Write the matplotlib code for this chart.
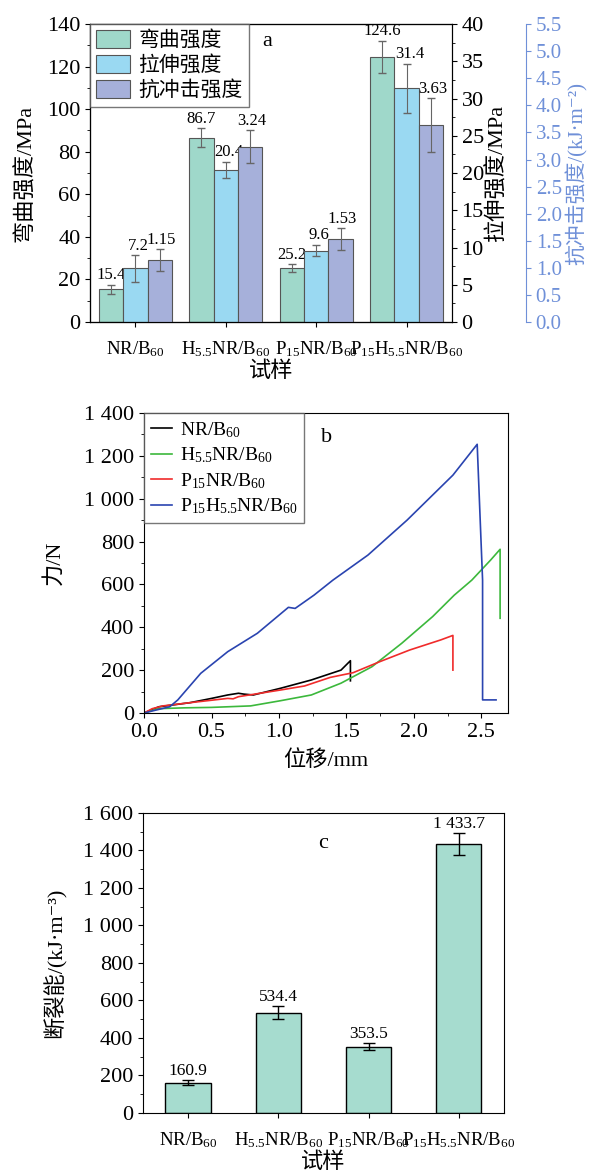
import numpy as np
import matplotlib
matplotlib.use('Agg')
import matplotlib.pyplot as plt
from matplotlib.ticker import MultipleLocator, FuncFormatter

fontes = ['Liberation Serif', 'Noto Sans CJK SC', 'DejaVu Sans']
plt.rcParams['font.family'] = fontes
plt.rcParams['mathtext.fontset'] = 'custom'
plt.rcParams['mathtext.rm'] = 'Liberation Serif'
plt.rcParams['mathtext.default'] = 'regular'

# Dados
amostras = [r'NR/B$_{60}$', r'H$_{5.5}$NR/B$_{60}$', r'P$_{15}$NR/B$_{60}$', r'P$_{15}$H$_{5.5}$NR/B$_{60}$']

flex = [15.4, 86.7, 25.2, 124.6]
flex_err = [2.1, 4.3, 1.9, 7.5]
tens = [7.2, 20.4, 9.6, 31.4]
tens_err = [1.8, 1.1, 0.8, 3.3]
impacto = [1.15, 3.24, 1.53, 3.63]
impacto_err = [0.2, 0.3, 0.2, 0.5]

# curvas força x deslocamento
nr_x = [0.0, 0.11, 0.34, 0.50, 0.62, 0.70, 0.74, 0.81, 1.01, 1.24, 1.46, 1.53, 1.53]
nr_y = [0, 29, 48, 68, 84, 92, 88, 84, 115, 154, 200, 244, 150]
h_x = [0.0, 0.10, 0.30, 0.50, 0.79, 1.01, 1.24, 1.46, 1.69, 1.91, 2.14, 2.30, 2.43, 2.50, 2.57, 2.64, 2.64]
h_y = [0, 20, 24, 26, 33, 57, 84, 139, 216, 325, 450, 550, 620, 667, 714, 764, 442]
p_x = [0.0, 0.06, 0.14, 0.34, 0.62, 0.66, 0.70, 0.80, 1.01, 1.19, 1.38, 1.55, 1.75, 1.97, 2.20, 2.29, 2.29]
p_y = [0, 20, 33, 48, 68, 66, 76, 86, 107, 126, 166, 188, 240, 294, 341, 362, 200]
ph_x = [0.0, 0.19, 0.25, 0.42, 0.62, 0.84, 1.07, 1.12, 1.26, 1.40, 1.66, 1.95, 2.29, 2.47, 2.51, 2.51, 2.61]
ph_y = [0, 29, 61, 185, 286, 372, 493, 488, 550, 620, 737, 900, 1110, 1254, 620, 61, 61]

energia = [160.9, 534.4, 353.5, 1433.7]
energia_err = [13, 35, 18, 60]

c_flex = '#9fd8ca'
c_tens = '#9ad9f2'
c_imp = '#a6b0da'
c_blue = '#6f90d8'

espaco = FuncFormatter(lambda v, p: f'{v:,.0f}'.replace(',', ' '))

fig = plt.figure(figsize=(5.93, 11.74), dpi=100)

# ---------------- painel a ----------------
ax = fig.add_axes([0.152, 0.7257, 0.610, 0.2538])
ax2 = ax.twinx()
ax3 = ax.twinx()
ax3.spines['right'].set_position(('axes', 1.205))

x = np.arange(len(amostras))
w = 0.27
b1 = ax.bar(x - w, flex, w, color=c_flex, edgecolor='#555555', linewidth=0.8, label='弯曲强度')
ax.errorbar(x - w, flex, yerr=flex_err, fmt='none', ecolor='#666666', elinewidth=0.8, capsize=3)
b2 = ax2.bar(x, tens, w, color=c_tens, edgecolor='#555555', linewidth=0.8, label='拉伸强度')
ax2.errorbar(x, tens, yerr=tens_err, fmt='none', ecolor='#666666', elinewidth=0.8, capsize=3)
b3 = ax3.bar(x + w, impacto, w, color=c_imp, edgecolor='#555555', linewidth=0.8, label='抗冲击强度')
ax3.errorbar(x + w, impacto, yerr=impacto_err, fmt='none', ecolor='#666666', elinewidth=0.8, capsize=3)

for i in range(len(x)):
    ax.annotate(f'{flex[i]:.1f}', (x[i] - w, flex[i] + flex_err[i]), xytext=(0, 1),
                textcoords='offset points', ha='center', va='bottom', fontsize=12)
    ax2.annotate(f'{tens[i]:.1f}', (x[i], tens[i] + tens_err[i]), xytext=(2, 1),
                 textcoords='offset points', ha='center', va='bottom', fontsize=12)
    ax3.annotate(f'{impacto[i]:.2f}', (x[i] + w, impacto[i] + impacto_err[i]), xytext=(1, 1),
                 textcoords='offset points', ha='center', va='bottom', fontsize=12)

ax.set_xlim(-0.5, 3.5)
ax.set_ylim(0, 140)
ax2.set_ylim(0, 40)
ax3.set_ylim(0, 5.5)
ax.set_xticks(x)
ax.set_xticklabels(amostras, fontsize=13.5)
ax.yaxis.set_major_locator(MultipleLocator(20))
ax.yaxis.set_minor_locator(MultipleLocator(10))
ax2.yaxis.set_major_locator(MultipleLocator(5))
ax2.yaxis.set_minor_locator(MultipleLocator(2.5))
ax3.yaxis.set_major_locator(MultipleLocator(0.5))
ax3.yaxis.set_major_formatter(FuncFormatter(lambda v, p: f'{v:.1f}'))
ax.tick_params(axis='y', labelsize=16, direction='out')
ax.tick_params(axis='x', direction='out', pad=9)
ax2.tick_params(labelsize=16, direction='out')
ax3.tick_params(labelsize=15, direction='out', colors=c_blue)
ax3.spines['right'].set_color(c_blue)
ax.set_xlabel('试样', fontsize=16, labelpad=2)
ax.set_ylabel('弯曲强度/MPa', fontsize=16, labelpad=8)
ax2.set_ylabel('拉伸强度/MPa', fontsize=16, labelpad=2)
ax3.set_ylabel('抗冲击强度/(kJ·m⁻²)', fontsize=15, color=c_blue, labelpad=3)
ax.text(0.49, 0.975, 'a', transform=ax.transAxes, fontsize=16, ha='center', va='top')
leg = ax3.legend(handles=[b1, b2, b3], loc='upper left', borderaxespad=0, fontsize=15,
                 fancybox=False, edgecolor='#555555', handlelength=1.6, handleheight=0.9,
                 labelspacing=0.2, borderpad=0.3, handletextpad=0.4)
leg.get_frame().set_linewidth(1.0)

# ---------------- painel b ----------------
bx = fig.add_axes([0.243, 0.3927, 0.614, 0.2555])
bx.plot(nr_x, nr_y, color='black', lw=1.2, label=r'NR/B$_{60}$')
bx.plot(h_x, h_y, color='#3cb83c', lw=1.2, label=r'H$_{5.5}$NR/B$_{60}$')
bx.plot(p_x, p_y, color='#f02b2b', lw=1.2, label=r'P$_{15}$NR/B$_{60}$')
bx.plot(ph_x, ph_y, color='#2a44b0', lw=1.2, label=r'P$_{15}$H$_{5.5}$NR/B$_{60}$')
bx.set_xlim(0, 2.7)
bx.set_ylim(0, 1400)
bx.xaxis.set_major_locator(MultipleLocator(0.5))
bx.xaxis.set_minor_locator(MultipleLocator(0.25))
bx.yaxis.set_major_locator(MultipleLocator(200))
bx.yaxis.set_minor_locator(MultipleLocator(100))
bx.yaxis.set_major_formatter(espaco)
bx.xaxis.set_major_formatter(FuncFormatter(lambda v, p: f'{v:.1f}'))
bx.tick_params(labelsize=16, direction='out')
bx.set_xlabel('位移/mm', fontsize=16, labelpad=6)
bx.set_ylabel('力/N', fontsize=16, labelpad=14)
bx.text(0.5, 0.95, 'b', transform=bx.transAxes, fontsize=16, ha='center', va='top')
leg = bx.legend(loc='upper left', borderaxespad=0, fontsize=14, fancybox=False,
                edgecolor='#555555', handlelength=1.1, labelspacing=0.3, borderpad=0.35,
                handletextpad=0.4)
leg.get_frame().set_linewidth(1.0)

# ---------------- painel c ----------------
cx = fig.add_axes([0.241, 0.052, 0.609, 0.2555])
cx.bar(x, energia, 0.5, color='#a6dccf', edgecolor='black', linewidth=1.0)
cx.errorbar(x, energia, yerr=energia_err, fmt='none', ecolor='black', elinewidth=1.0, capsize=4)
for i in range(len(x)):
    cx.annotate(f'{energia[i]:,.1f}'.replace(',', ' '), (x[i], energia[i] + energia_err[i]),
                xytext=(0, 1), textcoords='offset points', ha='center', va='bottom', fontsize=12.5)
cx.set_xlim(-0.5, 3.5)
cx.set_ylim(0, 1600)
cx.set_xticks(x)
cx.set_xticklabels(amostras, fontsize=13.5)
cx.yaxis.set_major_locator(MultipleLocator(200))
cx.yaxis.set_minor_locator(MultipleLocator(100))
cx.yaxis.set_major_formatter(espaco)
cx.tick_params(axis='y', labelsize=16, direction='out')
cx.tick_params(axis='x', direction='out', pad=9)
cx.set_xlabel('试样', fontsize=16, labelpad=2)
cx.set_ylabel('断裂能/(kJ·m⁻³)', fontsize=16, labelpad=12)
cx.text(0.5, 0.93, 'c', transform=cx.transAxes, fontsize=16, ha='center', va='top')

plt.savefig('out.png', dpi=100)
